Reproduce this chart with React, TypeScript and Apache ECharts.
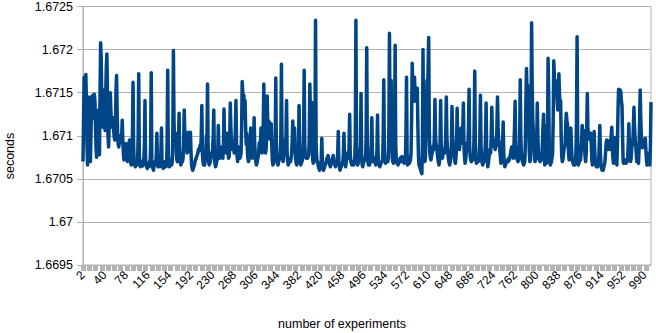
import React, { useEffect, useRef } from "react";
import * as echarts from "echarts";

// Measured times, stored as offsets above 1.67 s in units of 10 microseconds
// (e.g. 68 -> 1.67068 s). One block per 100 experiments.
const BASE_SECONDS = 1.67;
const UNIT_SECONDS = 0.00001;

const block0 = [70,120,168,150,160,171,140,90,66,100,145,120,80,70,100,140,146,147,120,146,148,140,110,85,75,95,120,130,95,78,150,208,190,140,120,110,130,153,120,106,150,180,195,150,100,87,110,140,150,130,115,110,118,121,105,98,95,110,150,170,130,100,90,87,95,100,96,92,100,118,95,80,72,75,85,91,88,75,70,80,88,92,95,80,68,66,70,100,162,90,68,66,64,70,68,66,70,100,172,80];
const block1 = [66,64,68,66,70,65,67,72,90,141,75,66,64,62,66,68,64,70,66,90,173,72,64,62,60,66,68,70,66,80,103,70,64,66,68,64,70,80,109,72,66,62,64,68,66,70,64,66,95,176,80,66,64,70,68,72,66,70,100,199,120,90,100,103,80,72,70,74,95,126,80,70,66,68,72,70,74,90,130,104,90,95,103,80,95,104,88,82,90,104,80,66,62,60,62,64,66,70,72,74];
const block2 = [76,78,80,84,82,86,89,84,100,135,80,70,66,68,66,72,80,100,92,160,90,70,66,68,70,74,80,76,85,100,130,80,68,64,66,70,72,80,112,84,76,74,78,82,87,80,74,90,131,95,84,82,80,90,103,84,74,76,90,138,110,95,90,84,90,86,80,84,110,141,90,76,70,78,87,80,74,76,80,110,163,150,140,147,120,141,110,90,103,84,74,70,72,78,84,109,86,76,74,80];
const block3 = [90,121,90,80,70,66,68,72,76,80,92,86,90,109,90,80,86,110,160,110,90,80,84,100,146,110,100,117,100,96,104,114,90,72,66,68,70,74,80,167,90,74,68,66,70,72,74,78,100,183,90,74,70,76,84,95,88,100,141,80,70,66,68,70,72,70,74,80,95,117,90,100,109,84,72,68,66,70,74,90,135,90,70,66,68,70,72,76,100,176,90,78,76,74,76,74,74,78,100,160];
const block4 = [120,110,139,90,72,68,70,74,100,234,90,74,70,68,64,62,60,62,66,72,97,70,62,60,62,64,66,68,70,74,72,77,72,68,66,64,66,70,72,74,77,70,68,66,64,66,68,72,80,105,70,64,60,62,64,66,68,70,80,103,70,66,64,70,75,80,76,74,90,125,80,70,68,66,68,70,66,68,72,100,234,90,70,66,68,72,80,76,90,149,80,66,64,68,70,72,74,72,100,202];
const block5 = [90,70,66,68,66,70,72,90,121,80,70,72,74,70,68,66,70,84,124,80,68,66,64,66,68,68,70,72,100,165,84,72,68,70,72,72,70,74,110,219,120,100,164,90,74,70,68,72,100,205,90,72,68,70,66,68,70,72,74,72,70,76,72,74,70,68,70,72,100,168,80,66,68,70,68,70,72,80,120,184,160,150,140,168,150,156,140,150,155,110,76,66,64,62,60,58,56,90,200,100];
const block6 = [76,70,72,90,130,164,150,180,214,110,80,74,72,76,80,84,88,84,100,142,100,90,88,80,74,70,66,70,90,141,90,80,74,78,82,84,80,86,100,145,100,84,78,72,68,66,70,76,90,134,100,90,84,76,70,68,74,90,132,100,90,86,84,90,100,109,100,92,110,138,90,76,68,72,80,86,92,90,110,154,90,76,72,70,72,74,72,76,110,175,90,74,68,70,72,70,72,76,100,147];
const block7 = [90,74,68,66,68,70,72,80,100,138,80,70,64,68,74,80,84,80,100,133,100,96,92,88,86,84,88,90,110,145,110,96,92,84,76,68,70,74,90,116,80,68,64,66,68,68,70,72,70,74,72,76,80,84,87,82,78,74,90,110,140,90,76,74,72,70,72,76,100,165,100,80,74,70,68,66,66,70,90,140,178,150,130,158,110,80,70,72,120,231,160,120,106,90,76,70,72,74,90,138];
const block8 = [100,80,74,72,70,70,72,76,90,110,125,90,66,112,90,68,70,100,190,150,90,70,66,68,70,70,80,120,187,170,150,164,150,156,140,130,150,172,150,130,141,100,76,70,72,78,84,87,90,110,126,118,114,100,80,72,74,84,109,90,76,70,68,66,68,66,70,80,120,215,100,66,68,70,70,72,80,95,112,100,96,106,90,76,70,80,110,149,110,100,103,96,100,103,90,72,66,70,84,105];
const block9 = [84,70,66,64,66,64,66,70,90,112,80,66,62,60,62,60,64,66,70,80,90,95,88,84,84,90,92,95,84,100,110,90,74,68,72,84,98,84,70,66,90,130,154,150,140,153,150,140,135,100,70,68,70,72,70,68,68,70,76,90,114,90,76,70,74,84,95,90,110,133,110,98,90,80,70,72,70,68,84,120,153,120,100,91,86,90,95,90,92,97,84,72,66,70,74,80,72,66,90,139];

const FIRST_EXPERIMENT = 2;
const Y_MIN = 1.6695;
const Y_MAX = 1.6725;
const Y_STEP = 0.0005;

const offsets = [
  ...block0, ...block1, ...block2, ...block3, ...block4,
  ...block5, ...block6, ...block7, ...block8, ...block9,
];
const seconds = offsets.map((u) => +(BASE_SECONDS + u * UNIT_SECONDS).toFixed(5));
const experiments = offsets.map((_, i) => String(FIRST_EXPERIMENT + i));

const FONT = "Liberation Sans";

export default function App() {
  const ref = useRef<HTMLDivElement>(null);
  useEffect(() => {
    if (!ref.current) return;
    const chart = echarts.init(ref.current, null, { renderer: "svg" });
    chart.setOption({
      animation: false,
      backgroundColor: "#ffffff",
      grid: {
        left: 83,
        right: 5,
        top: 6,
        bottom: 68,
        show: true,
        borderColor: "#b3b3b3",
        borderWidth: 1,
        containLabel: false,
      },
      xAxis: {
        type: "category",
        data: experiments,
        boundaryGap: false,
        axisLine: { show: true, lineStyle: { color: "#b3b3b3", width: 1 } },
        axisTick: {
          show: true,
          interval: 10,
          length: 6,
          lineStyle: { color: "#b3b3b3", width: 5 },
        },
        axisLabel: {
          interval: 37,
          rotate: 45,
          margin: 8,
          color: "#000000",
          fontFamily: FONT,
          fontSize: 12,
        },
        splitLine: { show: false },
      },
      yAxis: {
        type: "value",
        min: Y_MIN,
        max: Y_MAX,
        interval: Y_STEP,
        axisLine: { show: true, lineStyle: { color: "#b3b3b3", width: 1 } },
        axisTick: { show: true, length: 6, lineStyle: { color: "#b3b3b3" } },
        axisLabel: {
          margin: 10,
          color: "#000000",
          fontFamily: FONT,
          fontSize: 12.5,
          formatter: (v: number) => String(parseFloat(v.toFixed(4))),
        },
        splitLine: { show: true, lineStyle: { color: "#b3b3b3", width: 1 } },
      },
      graphic: [
        {
          type: "text",
          x: 10,
          y: 156,
          rotation: Math.PI / 2,
          style: {
            text: "seconds",
            fontFamily: FONT,
            fontSize: 12.5,
            fill: "#000000",
            align: "center",
            verticalAlign: "middle",
          },
        },
        {
          type: "text",
          x: 342,
          y: 324,
          style: {
            text: "number of experiments",
            fontFamily: FONT,
            fontSize: 12.5,
            fill: "#000000",
            align: "center",
            verticalAlign: "middle",
          },
        },
      ],
      series: [
        {
          type: "line",
          data: seconds,
          showSymbol: false,
          symbol: "none",
          sampling: undefined,
          lineStyle: { color: "#004586", width: 3.5, join: "round" },
          itemStyle: { color: "#004586" },
        },
      ],
    });
    return () => chart.dispose();
  }, []);
  return (
    <div
      ref={ref}
      style={{ position: "fixed", left: 0, top: 0, width: 656, height: 333 }}
    />
  );
}
